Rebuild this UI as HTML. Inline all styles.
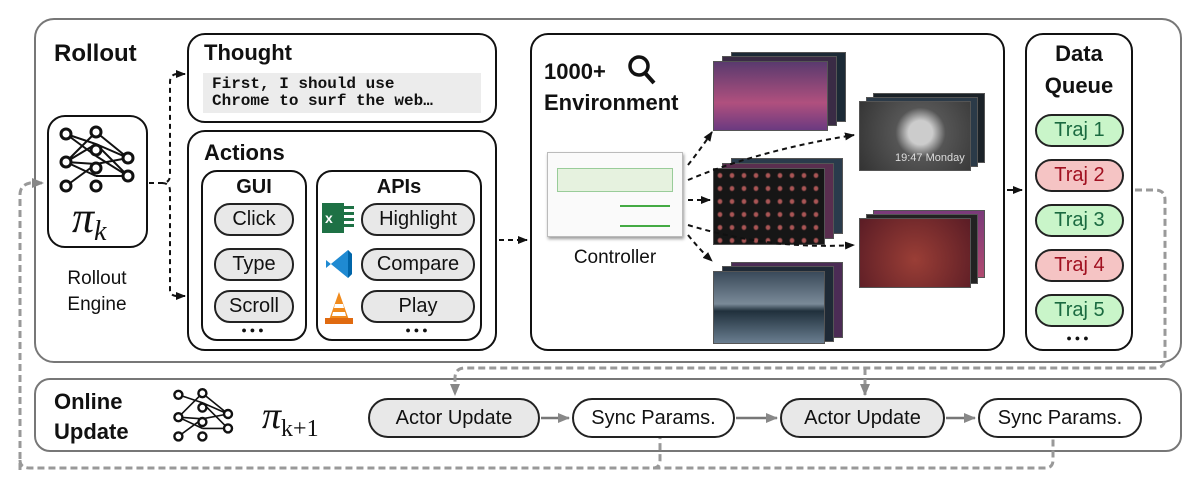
<!DOCTYPE html>
<html><head><meta charset="utf-8"><style>
body{margin:0;width:1194px;height:496px;background:#fff;position:relative;overflow:hidden;font-family:"Liberation Sans",Arial,sans-serif;color:#111}
.a{position:absolute;box-sizing:border-box}
.box{position:absolute;box-sizing:border-box;border:2px solid #111;border-radius:18px;background:#fff}
.pill{position:absolute;box-sizing:border-box;border:2px solid #222;border-radius:16px;background:#e8e8e8;text-align:center;font-size:20px}
.t{position:absolute;font-weight:bold}
.scr{position:absolute;box-sizing:border-box;border:1px solid #555}
.dots{position:absolute;text-align:center;font-size:9px;letter-spacing:3px;font-weight:bold}
</style></head><body>
<div class="a" style="left:34px;top:18px;width:1148px;height:345px;border:2px solid #777;border-radius:20px"></div>
<div class="a" style="left:34px;top:378px;width:1148px;height:74px;border:2px solid #777;border-radius:16px"></div>

<div class="t" style="left:54px;top:40px;font-size:24px">Rollout</div>
<div class="box" style="left:47px;top:115px;width:101px;height:133px"></div>
<div class="a" style="left:47px;top:266px;width:100px;text-align:center;font-size:19px;line-height:26px">Rollout<br>Engine</div>
<div class="a" style="left:72px;top:192px;font-family:'Liberation Serif',serif;font-style:italic;font-size:44px">π<span style="font-size:28px;position:relative;top:8px">k</span></div>

<div class="box" style="left:187px;top:33px;width:310px;height:90px"></div>
<div class="t" style="left:204px;top:40px;font-size:22px">Thought</div>
<div class="a" style="left:203px;top:73px;width:278px;height:40px;background:#ececec;font-family:'Liberation Mono',monospace;font-weight:bold;font-size:16px;line-height:17px;padding:3px 9px">First, I should use<br>Chrome to surf the web…</div>

<div class="box" style="left:187px;top:130px;width:310px;height:221px"></div>
<div class="t" style="left:204px;top:140px;font-size:22px">Actions</div>
<div class="box" style="left:201px;top:170px;width:106px;height:171px;border-radius:16px"></div>
<div class="t" style="left:201px;top:176px;width:106px;text-align:center;font-size:20px">GUI</div>
<div class="pill" style="left:214px;top:203px;width:80px;height:33px;line-height:29px">Click</div>
<div class="pill" style="left:214px;top:248px;width:80px;height:33px;line-height:29px">Type</div>
<div class="pill" style="left:214px;top:290px;width:80px;height:33px;line-height:29px">Scroll</div>
<div class="dots" style="left:201px;top:325px;width:106px">●●●</div>
<div class="box" style="left:316px;top:170px;width:166px;height:171px;border-radius:16px"></div>
<div class="t" style="left:316px;top:176px;width:166px;text-align:center;font-size:20px">APIs</div>
<div class="pill" style="left:361px;top:203px;width:114px;height:33px;line-height:29px">Highlight</div>
<div class="pill" style="left:361px;top:248px;width:114px;height:33px;line-height:29px">Compare</div>
<div class="pill" style="left:361px;top:290px;width:114px;height:33px;line-height:29px">Play</div>
<div class="dots" style="left:361px;top:325px;width:114px">●●●</div>
<div class="a" style="left:322px;top:203px;width:22px;height:30px;background:#1e7145;color:#fff;font-size:14px;font-weight:bold;line-height:30px;padding-left:3px">x</div>
<div class="a" style="left:344px;top:206px;width:10px;height:24px;background:repeating-linear-gradient(#1e7145 0 3px,#fff 3px 6px)"></div>
<svg class="a" style="left:322px;top:248px" width="34" height="34"><path d="M4 12 L26 30 L30 26 V6 L26 2 L4 20 Z" fill="#1f8ad2"/><path d="M26 2 L30 6 V26 L26 30 Z" fill="#0065a9"/></svg>
<svg class="a" style="left:322px;top:290px" width="34" height="36"><path d="M17 2 L27 30 H7 Z" fill="#f08a1c"/><rect x="3" y="28" width="28" height="6" fill="#e06a10"/><path d="M13 14 H21 L22 18 H12 Z M11 22 H23 L24 26 H10Z" fill="#fff"/></svg>

<div class="box" style="left:530px;top:33px;width:475px;height:318px"></div>
<div class="t" style="left:544px;top:59px;font-size:22px">1000+</div>
<svg class="a" style="left:626px;top:53px" width="36" height="36"><circle cx="13" cy="13" r="9" fill="none" stroke="#111" stroke-width="3.5"/><line x1="19" y1="20" x2="28" y2="30" stroke="#111" stroke-width="4"/></svg>
<div class="t" style="left:544px;top:90px;font-size:22px">Environment</div>
<div class="a" style="left:547px;top:152px;width:136px;height:85px;background:#fafafa;border:1px solid #bbb;box-shadow:1px 2px 3px #999"></div>
<div class="a" style="left:557px;top:168px;width:116px;height:24px;background:#e6f2df;border:1px solid #9c9"></div>
<div class="a" style="left:620px;top:205px;width:50px;height:2px;background:#4a4"></div>
<div class="a" style="left:620px;top:225px;width:50px;height:2px;background:#4a4"></div>
<div class="a" style="left:547px;top:247px;width:136px;text-align:center;font-size:19px">Controller</div>

<!-- screens -->
<div class="scr" style="left:731px;top:52px;width:115px;height:70px;background:#1c2a36"></div>
<div class="scr" style="left:722px;top:56px;width:115px;height:70px;background:#3a2b45"></div>
<div class="scr" style="left:713px;top:61px;width:115px;height:70px;background:linear-gradient(#5a3a6e,#b0507e 60%,#6b3a80)"></div>
<div class="scr" style="left:873px;top:93px;width:112px;height:70px;background:#1b2228"></div>
<div class="scr" style="left:866px;top:97px;width:112px;height:70px;background:#2b3a48"></div>
<div class="scr" style="left:859px;top:101px;width:112px;height:70px;background:radial-gradient(circle at 55% 45%,#ccc 0 12px,#555 25px,#333)"></div>
<div class="a" style="left:895px;top:152px;color:#ddd;font-size:11px">19:47 Monday</div>
<div class="scr" style="left:731px;top:158px;width:112px;height:76px;background:#2a3b4c"></div>
<div class="scr" style="left:722px;top:163px;width:112px;height:76px;background:#5a2e4f"></div>
<div class="scr" style="left:713px;top:168px;width:112px;height:77px;background:#161616;background-image:radial-gradient(#a55 1.5px,transparent 3px);background-size:12px 13px"></div>
<div class="scr" style="left:873px;top:210px;width:112px;height:68px;background:linear-gradient(#7a3a7a,#b04a70)"></div>
<div class="scr" style="left:866px;top:214px;width:112px;height:70px;background:#222"></div>
<div class="scr" style="left:859px;top:218px;width:112px;height:70px;background:radial-gradient(circle at 50% 60%,#9a3e36,#5a1c25)"></div>
<div class="scr" style="left:731px;top:262px;width:112px;height:76px;background:#4b2c55"></div>
<div class="scr" style="left:722px;top:266px;width:112px;height:76px;background:#1f2a36"></div>
<div class="scr" style="left:713px;top:271px;width:112px;height:73px;background:linear-gradient(#3a4a5a,#7a8a98 45%,#20303c 55%,#6a7e90)"></div>

<div class="box" style="left:1025px;top:33px;width:108px;height:318px"></div>
<div class="t" style="left:1025px;top:38px;width:108px;text-align:center;font-size:22px;line-height:32px">Data<br>Queue</div>
<div class="pill" style="left:1035px;top:114px;width:89px;height:33px;line-height:29px;background:#c9f5c9;color:#1a6a40;border-radius:17px">Traj 1</div>
<div class="pill" style="left:1035px;top:159px;width:89px;height:33px;line-height:29px;background:#f5c4c4;color:#a01020;border-radius:17px">Traj 2</div>
<div class="pill" style="left:1035px;top:204px;width:89px;height:33px;line-height:29px;background:#c9f5c9;color:#1a6a40;border-radius:17px">Traj 3</div>
<div class="pill" style="left:1035px;top:249px;width:89px;height:33px;line-height:29px;background:#f5c4c4;color:#a01020;border-radius:17px">Traj 4</div>
<div class="pill" style="left:1035px;top:294px;width:89px;height:33px;line-height:29px;background:#c9f5c9;color:#1a6a40;border-radius:17px">Traj 5</div>
<div class="dots" style="left:1025px;top:333px;width:108px">●●●</div>

<!-- online update -->
<div class="t" style="left:54px;top:387px;font-size:22px;line-height:30px">Online<br>Update</div>
<div class="a" style="left:262px;top:394px;font-family:'Liberation Serif',serif;font-style:italic;font-size:38px">π<span style="font-size:24px;position:relative;top:8px;font-style:normal">k+1</span></div>
<div class="pill" style="left:368px;top:398px;width:172px;height:40px;line-height:36px;border-radius:20px">Actor Update</div>
<div class="pill" style="left:572px;top:398px;width:163px;height:40px;line-height:36px;border-radius:20px;background:#fff">Sync Params.</div>
<div class="pill" style="left:780px;top:398px;width:165px;height:40px;line-height:36px;border-radius:20px">Actor Update</div>
<div class="pill" style="left:978px;top:398px;width:164px;height:40px;line-height:36px;border-radius:20px;background:#fff">Sync Params.</div>

<svg class="a" style="left:0;top:0" width="1194" height="496">
<defs>
<marker id="k" markerUnits="userSpaceOnUse" markerWidth="10" markerHeight="10" refX="9" refY="5" orient="auto"><path d="M0 1 L10 5 L0 9Z" fill="#111"/></marker>
<marker id="g" markerUnits="userSpaceOnUse" markerWidth="12" markerHeight="12" refX="11" refY="6" orient="auto"><path d="M0 1 L12 6 L0 11Z" fill="#888"/></marker>
</defs>
<g stroke="#111" stroke-width="2" fill="none">
<g transform="translate(58,128)">
<path d="M8 6 L38 16 L70 30 M8 6 L38 28 M8 34 L38 4 M8 34 L38 16 M8 34 L38 36 M8 34 L38 48 M8 58 L38 36 M38 4 L70 30 M38 16 L70 48 M38 28 L70 48 M38 36 L70 30 M38 48 L70 48"/>
<g fill="#fff" stroke-width="3"><circle cx="8" cy="6" r="5"/><circle cx="8" cy="34" r="5"/><circle cx="8" cy="58" r="5"/><circle cx="38" cy="4" r="5"/><circle cx="38" cy="22" r="5"/><circle cx="38" cy="40" r="5"/><circle cx="38" cy="58" r="5"/><circle cx="70" cy="30" r="5"/><circle cx="70" cy="48" r="5"/></g>
</g>
<g transform="translate(172,390) scale(0.8)">
<path d="M8 6 L38 16 L70 30 M8 34 L38 4 M8 34 L38 36 M8 34 L38 48 M8 58 L38 36 M38 4 L70 30 M38 16 L70 48 M38 36 L70 30 M38 48 L70 48"/>
<g fill="#fff" stroke-width="3"><circle cx="8" cy="6" r="5"/><circle cx="8" cy="34" r="5"/><circle cx="8" cy="58" r="5"/><circle cx="38" cy="4" r="5"/><circle cx="38" cy="22" r="5"/><circle cx="38" cy="40" r="5"/><circle cx="38" cy="58" r="5"/><circle cx="70" cy="30" r="5"/><circle cx="70" cy="48" r="5"/></g>
</g>
<g stroke-dasharray="5,4">
<path d="M149 183 H162 Q170 183 170 175 V82 Q170 74 178 74 H185" marker-end="url(#k)"/>
<path d="M162 183 Q170 183 170 191 V290 Q170 296 178 296 H185" marker-end="url(#k)"/>
<path d="M499 240 H527" marker-end="url(#k)"/>
<path d="M688 165 Q700 150 712 132" marker-end="url(#k)"/>
<path d="M688 180 Q760 150 854 135" marker-end="url(#k)"/>
<path d="M688 200 H710" marker-end="url(#k)"/>
<path d="M688 225 Q770 250 854 245" marker-end="url(#k)"/>
<path d="M688 235 Q700 250 712 261" marker-end="url(#k)"/>
</g>
<path d="M1007 190 H1022" marker-end="url(#k)"/>
</g>
<g stroke="#999" stroke-width="3" fill="none" stroke-dasharray="7,4">
<path d="M20 470 V195 Q20 185 30 183 H43" marker-end="url(#g)"/>
<path d="M20 460 Q20 468 30 468 H1045 Q1053 468 1053 460 V438"/>
<path d="M653 468 Q660 468 660 460 V438"/>
<path d="M1135 190 H1155 Q1165 190 1165 200 V358 Q1165 368 1155 368 H465 Q455 368 455 378 V395" marker-end="url(#g)"/>
<path d="M865 368 V395" marker-end="url(#g)"/>
</g>
<g stroke="#777" stroke-width="2.5">
<path d="M541 418 H569" marker-end="url(#g)"/>
<path d="M736 418 H777" marker-end="url(#g)"/>
<path d="M946 418 H975" marker-end="url(#g)"/>
</g>
</svg>
</body></html>
